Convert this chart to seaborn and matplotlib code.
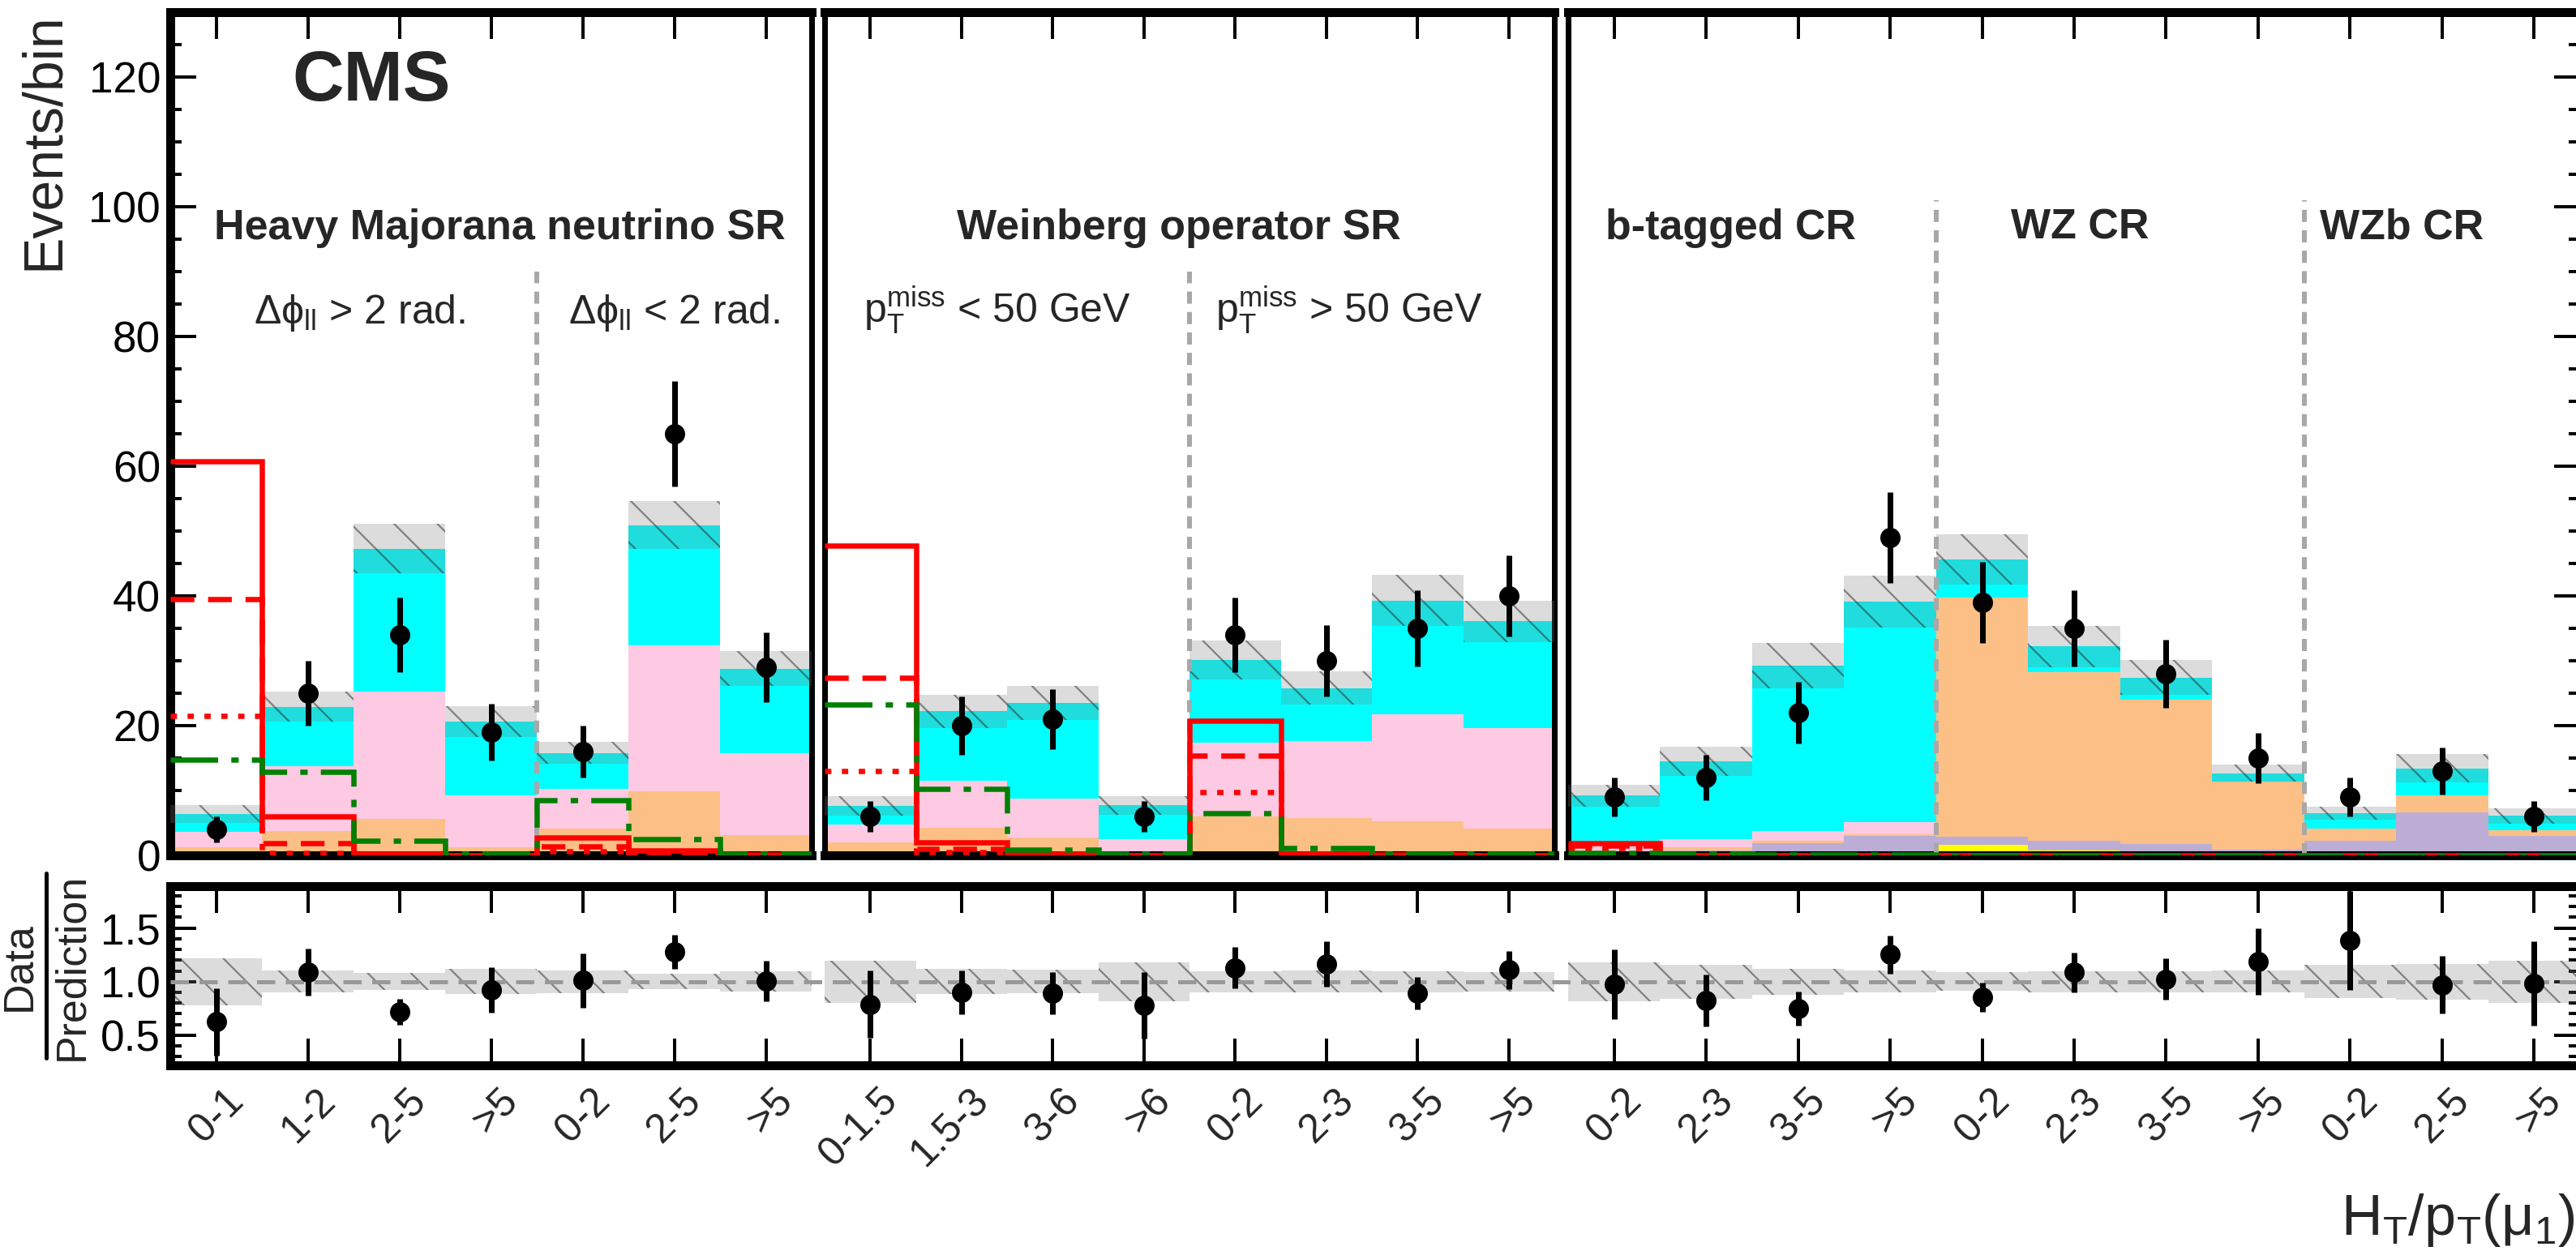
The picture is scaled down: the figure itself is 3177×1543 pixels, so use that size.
import numpy as np
import pandas as pd
import matplotlib
matplotlib.use("Agg")
import matplotlib.pyplot as plt
import matplotlib.transforms as mtransforms
from matplotlib.ticker import MultipleLocator
from matplotlib.lines import Line2D
import seaborn as sns

# ---------------- data ----------------
tick_labels = ["0-1", "1-2", "2-5", ">5", "0-2", "2-5", ">5",
               "0-1.5", "1.5-3", "3-6", ">6", "0-2", "2-3", "3-5", ">5",
               "0-2", "2-3", "3-5", ">5", "0-2", "2-3", "3-5", ">5",
               "0-2", "2-5", ">5"]
panel_nbins = [7, 8, 11]

# background contributions per bin (stacked, top -> bottom order below)
bkg_cyan = [2.8, 9.2, 22.1, 11.3, 5.6, 18.5, 13.1,
            2.9, 10.7, 14.7, 5.2, 12.7, 8.2, 17.6, 16.5,
            7.0, 12.0, 25.5, 34.0, 5.9, 4.0, 3.4, 1.25, 2.4, 4.2, 2.2]
bkg_pink = [2.3, 9.9, 19.6, 8.1, 6.1, 22.5, 12.6,
            2.7, 7.2, 6.0, 2.1, 11.4, 11.8, 16.4, 15.5,
            1.6, 1.2, 1.6, 1.8, 0, 0, 0, 0, 0, 0, 0]
bkg_orange = [1.1, 3.6, 5.3, 1.0, 3.9, 9.1, 2.9,
              1.9, 4.1, 2.6, 0.3, 5.6, 5.5, 5.0, 3.8,
              0.3, 0.6, 0.3, 0.3, 36.8, 26.0, 22.3, 10.5, 1.9, 2.6, 0.9]
bkg_purple = [0.2, 0.2, 0.3, 0.2, 0.2, 0.4, 0.2,
              0.1, 0.2, 0.2, 0.1, 0.2, 0.3, 0.3, 0.3,
              0.3, 0.7, 1.9, 3.0, 1.3, 1.5, 1.5, 0.9, 2.2, 6.6, 3.0]
bkg_yellow = [0, 0, 0, 0, 0, 0.4, 0,
              0, 0, 0, 0, 0.2, 0, 0, 0,
              0, 0, 0, 0, 1.6, 0.7, 0.2, 0, 0, 0, 0]
bkg_unc = [1.4, 2.3, 3.8, 2.4, 1.7, 3.7, 2.7,
           1.5, 2.6, 2.6, 1.4, 3.0, 2.6, 3.9, 3.2,
           1.65, 2.3, 3.5, 4.0, 3.9, 3.2, 2.7, 1.3, 1.0, 2.2, 1.2]

data_obs = [4, 25, 34, 19, 16, 65, 29,
            6, 20, 21, 6, 34, 30, 35, 40,
            9, 12, 22, 49, 39, 35, 28, 15, 9, 13, 6]
data_err = [2.0, 5.0, 5.8, 4.4, 4.0, 8.1, 5.4,
            2.4, 4.5, 4.6, 2.4, 5.8, 5.5, 5.9, 6.3,
            3.0, 3.5, 4.7, 7.0, 6.2, 5.9, 5.3, 3.9, 3.0, 3.6, 2.4]

sig_red_solid = [60.8, 6.0, 0.2, 0.05, 2.8, 0.8, 0.1,
                 47.7, 2.0, 0.3, 0.05, 20.7, 0.3, 0.1, 0.05,
                 1.9, 0.05, 0, 0, 0, 0, 0, 0, 0, 0, 0]
sig_red_dash = [39.5, 1.9, 0.1, 0.05, 1.4, 0.3, 0.05,
                27.4, 1.0, 0.2, 0.05, 15.4, 0.2, 0.05, 0.05,
                1.5, 0.05, 0, 0, 0, 0, 0, 0, 0, 0, 0]
sig_red_dot = [21.5, 0.4, 0.05, 0.0, 0.6, 0.1, 0.0,
               13.0, 0.5, 0.1, 0.0, 9.8, 0.1, 0.0, 0.0,
               1.1, 0, 0, 0, 0, 0, 0, 0, 0, 0, 0]
sig_green = [14.8, 12.9, 2.3, 0.3, 8.5, 2.5, 0.3,
             23.2, 10.3, 0.9, 0.3, 6.5, 1.1, 0.3, 0.2,
             0.4, 0.3, 0.1, 0.1, 0, 0, 0, 0, 0, 0, 0]

panel_titles = ["Heavy Majorana neutrino SR", "Weinberg operator SR"]
region_titles_cr = ["b-tagged CR", "WZ CR", "WZb CR"]
subtitles = [[r"Δϕ$_{\mathrm{ll}}$ > 2 rad.", r"Δϕ$_{\mathrm{ll}}$ < 2 rad."],
             [r"p$_{\mathrm{T}}^{\mathrm{miss}}$ < 50 GeV", r"p$_{\mathrm{T}}^{\mathrm{miss}}$ > 50 GeV"]]

# ---------------- style ----------------
W, H, DPI = 3177, 1543, 160


def P(px):
    return px * 72.0 / DPI


def fx(px):
    return px / W


def fy(px):
    return 1.0 - px / H


sns.set_style("ticks")
plt.rcParams['font.family'] = ['Liberation Sans', 'DejaVu Sans']
plt.rcParams['mathtext.fontset'] = 'custom'
plt.rcParams['mathtext.rm'] = 'Liberation Sans'
plt.rcParams['mathtext.it'] = 'Liberation Sans'
plt.rcParams['mathtext.bf'] = 'Liberation Sans:bold'
plt.rcParams['hatch.linewidth'] = P(2.2)
plt.rcParams['axes.edgecolor'] = 'black'
plt.rcParams['xtick.color'] = 'black'
plt.rcParams['ytick.color'] = 'black'

proc_names = ["Nonprompt", "WW", "WZ", "ttV", "Other"]   # top -> bottom
palette = {"Nonprompt": "#00FFFF", "WW": "#FDC9E3", "WZ": "#FCC086",
           "ttV": "#BBADD6", "Other": "#FFFF00"}
stack_arrays = {"Nonprompt": bkg_cyan, "WW": bkg_pink, "WZ": bkg_orange,
                "ttV": bkg_purple, "Other": bkg_yellow}

band_face = (0.478, 0.478, 0.478, 0.263)
band_hatch = (0.15, 0.15, 0.15, 0.5)

panel_px = [(210, 1001), (1017, 1917), (1934, 3182)]
top_y = (15, 1055)
rat_y = (1093, 1314)

total = np.sum([np.array(stack_arrays[p], float) for p in proc_names], axis=0)
unc = np.array(bkg_unc, float)
obs = np.array(data_obs, float)
oerr = np.array(data_err, float)

fig = plt.figure(figsize=(W / DPI, H / DPI), dpi=DPI)

offs = np.cumsum([0] + panel_nbins)
axes = []
for k, (x0, x1) in enumerate(panel_px):
    ax = fig.add_axes([fx(x0), fy(top_y[1]), (x1 - x0) / W, (top_y[1] - top_y[0]) / H])
    axes.append(ax)
    n = panel_nbins[k]
    sl = slice(offs[k], offs[k + 1])
    centers = np.arange(n) + 0.5
    edges = np.arange(n + 1)

    rows = []
    for p in proc_names:
        for c, v in zip(centers, stack_arrays[p][sl]):
            rows.append((c, v, p))
    df = pd.DataFrame(rows, columns=["x", "w", "proc"])
    sns.histplot(data=df, x="x", weights="w", hue="proc", hue_order=proc_names,
                 multiple="stack", bins=n, binrange=(0, n), palette=palette,
                 element="bars", linewidth=0, alpha=1, legend=False, ax=ax)

    tot = total[sl]
    u = unc[sl]
    ax.bar(centers, 2 * u, bottom=tot - u, width=1.0, facecolor=band_face,
           edgecolor=band_hatch, hatch='\\', linewidth=0, zorder=3)

    lw_sig = P(6.5)
    ax.stairs(np.array(sig_red_solid[sl]), edges, baseline=None, color='#FF0000',
              lw=lw_sig, zorder=4)
    ax.stairs(np.array(sig_red_dash[sl]), edges, baseline=None, color='#FF0000',
              lw=lw_sig, linestyle=(0, (4.5, 2.6)), zorder=4)
    ax.stairs(np.array(sig_red_dot[sl]), edges, baseline=None, color='#FF0000',
              lw=lw_sig, linestyle=(0, (1.2, 2.0)), zorder=4)
    ax.stairs(np.array(sig_green[sl]), edges, baseline=None, color='#008000',
              lw=lw_sig, linestyle=(0, (9.0, 2.5, 1.4, 2.5)), zorder=4)

    ax.errorbar(centers, obs[sl], yerr=oerr[sl], fmt='o', color='black',
                ms=P(25), mew=0, elinewidth=P(7), capsize=0, zorder=6)

    ax.set_xlim(0, n)
    ax.set_ylim(0, 130)
    ax.set_xlabel("")
    ax.set_ylabel("")
    ax.set_xticks(centers)
    ax.tick_params(axis='x', which='both', direction='in', top=True, bottom=True,
                   length=P(33), width=P(4), labelbottom=False)
    ax.yaxis.set_major_locator(MultipleLocator(20))
    ax.yaxis.set_minor_locator(MultipleLocator(5))
    for s in ax.spines.values():
        s.set_linewidth(P(11))
        s.set_color('black')
    if k == 0:
        ax.tick_params(axis='y', which='both', direction='in', left=True, right=False,
                       labelleft=True, width=P(4), pad=P(12), labelsize=P(53))
        ax.tick_params(axis='y', which='major', length=P(32))
        ax.tick_params(axis='y', which='minor', length=P(14))
        ax.spines['right'].set_linewidth(P(7))
    elif k == 1:
        ax.tick_params(axis='y', which='both', left=False, right=False, labelleft=False)
        ax.spines['right'].set_linewidth(P(7))
        ax.spines['left'].set_linewidth(P(7))
    else:
        ax.tick_params(axis='y', which='both', direction='in', left=False, right=True,
                       labelleft=False, labelright=False, width=P(4))
        ax.tick_params(axis='y', which='major', length=P(32))
        ax.tick_params(axis='y', which='minor', length=P(14))
        ax.spines['left'].set_linewidth(P(7))

# dividers inside panels
div_kw = dict(color='#A8A8A8', lw=P(6), linestyle=(0, (2.5, 1.7)), zorder=3.5)
axes[0].plot([4, 4], [0, 90], **div_kw)
axes[1].plot([4, 4], [0, 90], **div_kw)
axes[2].plot([4, 4], [0, 101], **div_kw)
axes[2].plot([8, 8], [0, 101], **div_kw)

# texts
fs_title = P(52)
axes[0].text(1.33, 116.4, "CMS", fontsize=P(88), fontweight='bold', ha='left', va='baseline')
axes[0].text(3.6, 95, panel_titles[0], fontsize=fs_title, fontweight='bold', ha='center', va='baseline')
axes[1].text(3.88, 95, panel_titles[1], fontsize=fs_title, fontweight='bold', ha='center', va='baseline')
for xc, t in zip([1.77, 5.56, 9.06], region_titles_cr):
    axes[2].text(xc, 95, t, fontsize=fs_title, fontweight='bold', ha='center', va='baseline')
fs_sub = P(50)
axes[0].text(2.07, 82, subtitles[0][0], fontsize=fs_sub, ha='center', va='baseline')
axes[0].text(5.5, 82, subtitles[0][1], fontsize=fs_sub, ha='center', va='baseline')
axes[1].text(1.89, 82, subtitles[1][0], fontsize=fs_sub, ha='center', va='baseline')
axes[1].text(5.75, 82, subtitles[1][1], fontsize=fs_sub, ha='center', va='baseline')

# ---------------- ratio panel ----------------
ax_r = fig.add_axes([fx(panel_px[0][0]), fy(rat_y[1]), (panel_px[2][1] - panel_px[0][0]) / W,
                     (rat_y[1] - rat_y[0]) / H])
cen_px = []
wid_px = []
for k, (x0, x1) in enumerate(panel_px):
    n = panel_nbins[k]
    bw = (x1 - x0) / n
    for i in range(n):
        cen_px.append(x0 + (i + 0.5) * bw)
        wid_px.append(bw)
cen_px = np.array(cen_px)
wid_px = np.array(wid_px)

rel = unc / total
ratio = obs / total
rerr = oerr / total
ax_r.bar(cen_px, 2 * rel, bottom=1 - rel, width=wid_px, facecolor=band_face,
         edgecolor=band_hatch, hatch='\\', linewidth=0, zorder=2)
ax_r.axhline(1.0, color='#999999', lw=P(5), linestyle=(0, (4.5, 2.6)), zorder=3)
ax_r.errorbar(cen_px, ratio, yerr=rerr, fmt='o', color='black', ms=P(25), mew=0,
              elinewidth=P(7), capsize=0, zorder=5)
ax_r.set_xlim(panel_px[0][0], panel_px[2][1])
ax_r.set_ylim(0.22, 1.89)
ax_r.set_xticks(cen_px)
ax_r.set_xticklabels([])
ax_r.tick_params(axis='x', which='both', direction='in', top=True, bottom=True,
                 length=P(33), width=P(4))
ax_r.set_yticks([0.5, 1.0, 1.5])
ax_r.set_yticklabels(["0.5", "1.0", "1.5"])
ax_r.yaxis.set_minor_locator(MultipleLocator(0.1))
ax_r.tick_params(axis='y', which='both', direction='in', left=True, right=True,
                 width=P(4), pad=P(12), labelsize=P(53))
ax_r.tick_params(axis='y', which='major', length=P(32))
ax_r.tick_params(axis='y', which='minor', length=P(14))
for s in ax_r.spines.values():
    s.set_linewidth(P(11))
    s.set_color('black')

lab_tr = mtransforms.offset_copy(ax_r.get_xaxis_transform(), fig=fig,
                                 x=P(10), y=-P(20), units='points')
for xc, lab in zip(cen_px, tick_labels):
    ax_r.text(xc, 0, lab, transform=lab_tr, rotation=45, rotation_mode='anchor',
              ha='right', va='top', fontsize=P(50))

# axis titles
fig.text(fx(54), fy(15), "Events/bin", rotation=90, ha='center', va='top', fontsize=P(68))
fig.text(fx(24), fy(1192), "Data", rotation=90, ha='center', va='center', fontsize=P(52))
fig.text(fx(89), fy(1192), "Prediction", rotation=90, ha='center', va='center', fontsize=P(52))
fig.add_artist(Line2D([fx(57), fx(57)], [fy(1077), fy(1305)], color='black', lw=P(5),
                      transform=fig.transFigure))
fig.text(fx(3175), fy(1523), r"H$_{\mathrm{T}}$/p$_{\mathrm{T}}$(μ$_{\mathrm{1}}$)",
         ha='right', va='baseline', fontsize=P(70))

fig.savefig("out.png", dpi=DPI)
